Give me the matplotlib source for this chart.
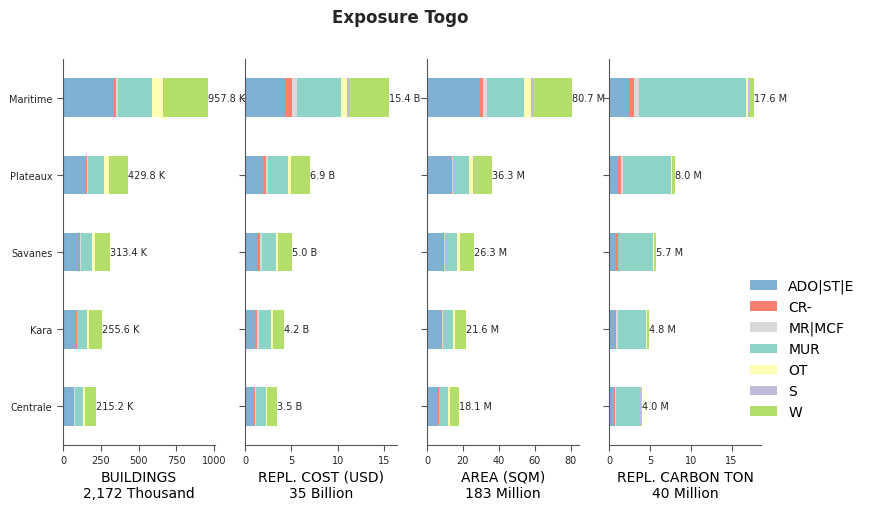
import matplotlib
matplotlib.use("Agg")
import matplotlib.pyplot as plt
import numpy as np

regions = ["Centrale", "Kara", "Savanes", "Plateaux", "Maritime"]
classes = ["ADO|ST|E", "CR-", "MR|MCF", "MUR", "OT", "S", "W"]
colors = ["#80b1d3", "#fb8072", "#d9d9d9", "#8dd3c7", "#ffffb3", "#bebada", "#b3de69"]

# values per region (Centrale, Kara, Savanes, Plateaux, Maritime) for each class
buildings = {
    "ADO|ST|E": [70, 85, 106, 153, 340],
    "CR-":      [6, 6, 6.6, 8, 12],
    "MR|MCF":   [2, 2, 4, 3, 12],
    "MUR":      [56, 67, 73, 105, 226],
    "OT":       [13, 13, 20, 33, 73],
    "S":        [0.5, 0.6, 0.6, 1, 2],
    "W":        [67.7, 82, 103.2, 126.8, 292.8],
}
cost = {
    "ADO|ST|E": [0.94, 1.05, 1.34, 1.92, 4.30],
    "CR-":      [0.11, 0.22, 0.25, 0.33, 0.76],
    "MR|MCF":   [0.10, 0.20, 0.22, 0.18, 0.54],
    "MUR":      [1.08, 1.30, 1.52, 2.20, 4.77],
    "OT":       [0.11, 0.20, 0.22, 0.33, 0.65],
    "S":        [0.02, 0.03, 0.02, 0.02, 0.25],
    "W":        [1.12, 1.19, 1.52, 2.06, 4.30],
}
area = {
    "ADO|ST|E": [6.3, 8.0, 9.1, 13.4, 29.8],
    "CR-":      [0.2, 0.4, 0.56, 0.75, 1.68],
    "MR|MCF":   [0.3, 0.3, 0.4, 0.56, 1.68],
    "MUR":      [4.9, 5.6, 6.7, 8.95, 20.7],
    "OT":       [1.1, 1.1, 1.68, 2.24, 3.9],
    "S":        [0.1, 0.1, 0.1, 0.1, 1.1],
    "W":        [5.2, 6.1, 7.76, 10.3, 21.8],
}
carbon = {
    "ADO|ST|E": [0.57, 0.70, 0.82, 1.06, 2.41],
    "CR-":      [0.12, 0.12, 0.24, 0.37, 0.61],
    "MR|MCF":   [0.12, 0.24, 0.10, 0.24, 0.61],
    "MUR":      [2.94, 3.43, 4.28, 5.88, 13.1],
    "OT":       [0.10, 0.12, 0.10, 0.12, 0.24],
    "S":        [0.02, 0.02, 0.02, 0.02, 0.12],
    "W":        [0.15, 0.25, 0.15, 0.37, 0.60],
}

total_labels = [
    ["215.2 K", "255.6 K", "313.4 K", "429.8 K", "957.8 K"],
    ["3.5 B", "4.2 B", "5.0 B", "6.9 B", "15.4 B"],
    ["18.1 M", "21.6 M", "26.3 M", "36.3 M", "80.7 M"],
    ["4.0 M", "4.8 M", "5.7 M", "8.0 M", "17.6 M"],
]
xlabels = ["BUILDINGS\n2,172 Thousand", "REPL. COST (USD)\n35 Billion",
           "AREA (SQM)\n183 Million", "REPL. CARBON TON\n40 Million"]
xticks = [[0, 250, 500, 750, 1000], [0, 5, 10, 15], [0, 20, 40, 60, 80], [0, 5, 10, 15]]
xlims = [1005, 16.4, 84.7, 18.6]

datasets = [buildings, cost, area, carbon]

fig = plt.figure(figsize=(8.71, 5.10), dpi=100)
lefts = [63, 245, 427, 609]
W, H = 871, 510
spine_c = "#555555"
text_c = "#262626"

handles = []
for i, (data, left) in enumerate(zip(datasets, lefts)):
    ax = fig.add_axes([left / W, 1 - 446 / H, 152 / W, (446 - 60) / H])
    y = np.arange(len(regions))
    base = np.zeros(len(regions))
    for cls, col in zip(classes, colors):
        vals = np.array(data[cls], dtype=float)
        b = ax.barh(y, vals, left=base, height=0.5, color=col, label=cls, linewidth=0)
        if i == 0:
            handles.append(b)
        base = base + vals
    for yy, tot, lab in zip(y, base, total_labels[i]):
        ax.text(tot, yy, lab, va="center", ha="left", fontsize=7, color=text_c)
    ax.set_ylim(-0.5, len(regions) - 0.5)
    ax.set_xlim(0, xlims[i])
    ax.set_xticks(xticks[i])
    ax.set_yticks(y)
    if i == 0:
        ax.set_yticklabels(regions)
    else:
        ax.set_yticklabels([])
    ax.tick_params(axis="both", labelsize=7, colors=spine_c, labelcolor=text_c, length=4)
    for s in ["top", "right"]:
        ax.spines[s].set_visible(False)
    for s in ["left", "bottom"]:
        ax.spines[s].set_color(spine_c)
    ax.set_xlabel(xlabels[i], fontsize=10, color="black", labelpad=3)

fig.legend(handles, classes, loc="upper left", bbox_to_anchor=(737 / W, 1 - 267 / H),
           frameon=False, fontsize=10)
fig.text(400 / W, 1 - 18 / H, "Exposure Togo", ha="center", va="center",
         fontsize=12, fontweight="bold", color=text_c)

fig.savefig("out.png", dpi=100)
